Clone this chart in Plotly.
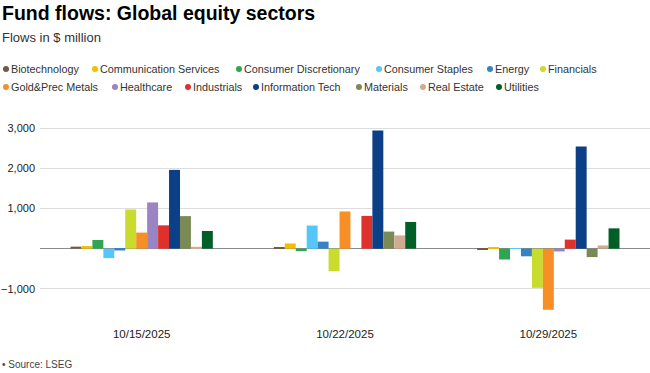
import plotly.graph_objects as go

dates = ["10/15/2025", "10/22/2025", "10/29/2025"]
sectors = ["Biotechnology", "Communication Services", "Consumer Discretionary",
           "Consumer Staples", "Energy", "Financials", "Gold&Prec Metals",
           "Healthcare", "Industrials", "Information Tech", "Materials",
           "Real Estate", "Utilities"]
flows_oct15 = [50, 65, 215, -235, -45, 975, 400, 1150, 580, 1960, 810, 45, 440]
flows_oct22 = [30, 130, -60, 575, 175, -560, 925, None, 815, 2940, 425, 330, 665]
flows_oct29 = [-10, 20, -270, 15, -190, -975, -1520, -70, 225, 2540, -210, 80, 505]
y_tick_vals = [-1000, 1000, 2000, 3000]
y_tick_text = ["\u22121,000", "1,000", "2,000", "3,000"]

colors = ["#755846", "#f2bf00", "#2fa552", "#55c6f7", "#3582c4", "#c9db2c",
          "#f68f26", "#9a84c4", "#df302b", "#0b3f86", "#7b8a55", "#d1aa93",
          "#005e27"]

FONT = "Liberation Sans, Arial, Helvetica, sans-serif"

fig = go.Figure()
for i, s in enumerate(sectors):
    fig.add_trace(go.Bar(
        x=dates,
        y=[flows_oct15[i], flows_oct22[i], flows_oct29[i]],
        name=s,
        marker=dict(color=colors[i], line=dict(width=0)),
        showlegend=False,
    ))

# legend drawn as dots + annotations (row, dot-left x in px)
legend_pos = [(0, 3), (0, 92), (0, 236), (0, 376), (0, 487), (0, 540),
              (1, 3), (1, 112), (1, 185), (1, 253), (1, 356), (1, 420), (1, 496)]
row_y = [69, 87]
H = 373
plot_top, plot_h = 116, 201
plot_left, plot_w = 40, 610


def px_to_paper_x(px):
    return (px - plot_left) / plot_w


def px_to_paper_y(py):
    return 1 - (py - plot_top) / plot_h


annotations = []
shapes = []
for i, s in enumerate(sectors):
    r, px = legend_pos[i]
    cy = row_y[r]
    shapes.append(dict(
        type="circle", xref="paper", yref="paper",
        x0=px_to_paper_x(px), x1=px_to_paper_x(px + 6),
        y0=px_to_paper_y(cy + 3), y1=px_to_paper_y(cy - 3),
        fillcolor=colors[i], line=dict(width=0),
    ))
    annotations.append(dict(
        xref="paper", yref="paper", x=px_to_paper_x(px + 6), y=px_to_paper_y(cy),
        xanchor="left", yanchor="middle", showarrow=False, xshift=0,
        text=s,
        font=dict(family=FONT, size=10.8, color="#333333"),
    ))

annotations.append(dict(
    xref="paper", yref="paper", x=px_to_paper_x(0), y=px_to_paper_y(13),
    xanchor="left", yanchor="middle", showarrow=False,
    text="<b>Fund flows: Global equity sectors</b>",
    font=dict(family=FONT, size=19.5, color="#000000"),
))
annotations.append(dict(
    xref="paper", yref="paper", x=px_to_paper_x(0), y=px_to_paper_y(37),
    xanchor="left", yanchor="middle", showarrow=False,
    text="Flows in $ million",
    font=dict(family=FONT, size=13, color="#333333"),
))
annotations.append(dict(
    xref="paper", yref="paper", x=px_to_paper_x(0), y=px_to_paper_y(364),
    xanchor="left", yanchor="middle", showarrow=False,
    text="\u2022 Source: LSEG",
    font=dict(family=FONT, size=10, color="#444444"),
))

fig.update_layout(
    width=650, height=H,
    margin=dict(l=40, r=0, t=116, b=56),
    paper_bgcolor="white", plot_bgcolor="white",
    barmode="group", bargap=0.30, bargroupgap=0,
    font=dict(family=FONT, size=11, color="#333333"),
    annotations=annotations,
    shapes=shapes,
    showlegend=False,
)
fig.update_xaxes(
    type="category", showgrid=False, zeroline=False, showline=False,
    ticks="", tickfont=dict(size=11.5, color="#222222"),
    ticklabelstandoff=8,
)
fig.update_yaxes(
    range=[-1700, 3300], tickvals=y_tick_vals, ticktext=y_tick_text,
    showgrid=True, gridcolor="#dddddd", gridwidth=1,
    zeroline=True, zerolinecolor="#8a8a8a", zerolinewidth=1,
    ticks="", tickfont=dict(size=11, color="#222222"),
    ticklabelstandoff=4,
)

fig.write_html("out.html",
               config={"displayModeBar": False},
               post_script="document.body.style.margin='0px';document.body.style.padding='0px';")
